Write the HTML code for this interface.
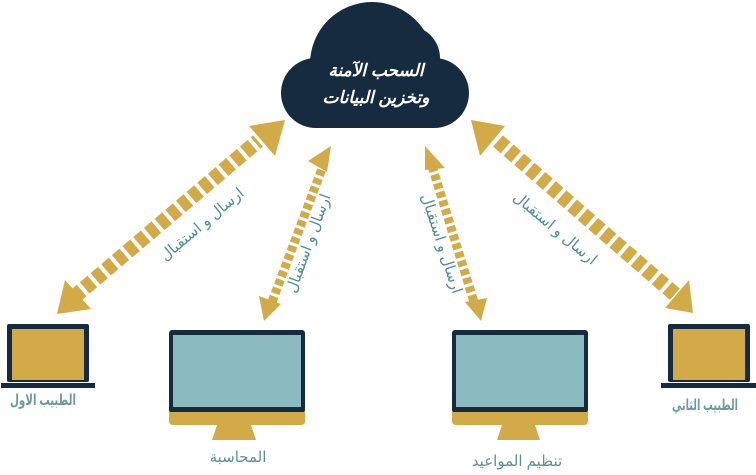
<!DOCTYPE html>
<html><head><meta charset="utf-8"><style>
html,body{margin:0;padding:0;background:#fff;width:756px;height:475px;overflow:hidden}
svg{display:block}
.lab{font-family:"Liberation Sans","DejaVu Sans",sans-serif;fill:#4f8e98;font-size:15px}
.ct{font-family:"Liberation Sans","DejaVu Sans",sans-serif;fill:#fff;font-size:17px;font-weight:bold;font-style:italic}
</style></head><body>
<svg width="756" height="475" viewBox="0 0 756 475" xmlns="http://www.w3.org/2000/svg">
<g fill="#172b40">
<circle cx="372" cy="64" r="62"/>
<circle cx="316" cy="93" r="35"/>
<circle cx="434" cy="93" r="35"/>
<circle cx="408" cy="58" r="32"/>
<rect x="316" y="70" width="118" height="58"/>
</g>
<text class="ct" x="376" y="76" text-anchor="middle">السحب الآمنة</text>
<text class="ct" x="376" y="103" text-anchor="middle">وتخزين البيانات</text>

<g stroke="#d3aa48" fill="none">
<line x1="74" y1="297" x2="258" y2="141" stroke-width="15" stroke-dasharray="10 4"/>
<line x1="272" y1="302" x2="323" y2="166" stroke-width="9" stroke-dasharray="6 3"/>
<line x1="432" y1="166" x2="474" y2="302" stroke-width="9" stroke-dasharray="6 3"/>
<line x1="498" y1="141" x2="678" y2="297" stroke-width="15" stroke-dasharray="10 4"/>
</g>
<g fill="#d3aa48">
<polygon points="285,120 249,126 275,156"/>
<polygon points="57,314 65,280 91,309"/>
<polygon points="331,146 308,161 327,172"/>
<polygon points="264,321 259,296 281,304"/>
<polygon points="425,146 445,168 425,170"/>
<polygon points="481,321 465,302 487,298"/>
<polygon points="471,120 505,126 480,156"/>
<polygon points="693,313 689,280 665,308"/>
</g>
<text class="lab" transform="translate(205,228) rotate(-40)" text-anchor="middle">ارسال و استقبال</text>
<text class="lab" transform="translate(313,245) rotate(-70)" text-anchor="middle" font-size="13">ارسال و استقبال</text>
<text class="lab" transform="translate(437,245) rotate(72)" text-anchor="middle" font-size="13">ارسال و استقبال</text>
<text class="lab" transform="translate(552,232) rotate(40)" text-anchor="middle">ارسال و استقبال</text>

<rect x="7" y="324" width="82" height="58" rx="2" fill="#172b40"/>
<rect x="12" y="329" width="72" height="51" fill="#d3aa48"/>
<rect x="1" y="383" width="94" height="5" fill="#172b40"/>
<text class="lab" x="10" y="405" font-weight="bold" font-size="16" textLength="66" lengthAdjust="spacingAndGlyphs" style="fill:#6a9ba3">الطبيب الاول</text>

<rect x="169" y="330" width="136" height="83" rx="3" fill="#172b40"/>
<rect x="173" y="335" width="128" height="72" fill="#8bbbc1"/>
<path d="M169,412 H305 V421 Q305,425 301,425 H173 Q169,425 169,421 Z" fill="#d3aa48"/>
<polygon points="217,425 251,425 256,440 212,440" fill="#d3aa48"/>
<text class="lab" x="238" y="462" text-anchor="middle" style="fill:#5e8f98">المحاسبة</text>

<rect x="452" y="330" width="136" height="83" rx="3" fill="#172b40"/>
<rect x="456" y="335" width="128" height="72" fill="#8bbbc1"/>
<path d="M452,412 H588 V421 Q588,425 584,425 H456 Q452,425 452,421 Z" fill="#d3aa48"/>
<polygon points="502,425 535,425 540,440 497,440" fill="#d3aa48"/>
<text class="lab" x="517" y="466" text-anchor="middle" style="fill:#5e8f98">تنظيم المواعيد</text>

<rect x="668" y="324" width="82" height="58" rx="2" fill="#172b40"/>
<rect x="673" y="329" width="72" height="51" fill="#d3aa48"/>
<rect x="661" y="383" width="95" height="5" fill="#172b40"/>
<text class="lab" x="672" y="410" font-weight="bold" font-size="16" textLength="66" lengthAdjust="spacingAndGlyphs" style="fill:#6a9ba3">الطبيب الثاني</text>
</svg>
</body></html>
